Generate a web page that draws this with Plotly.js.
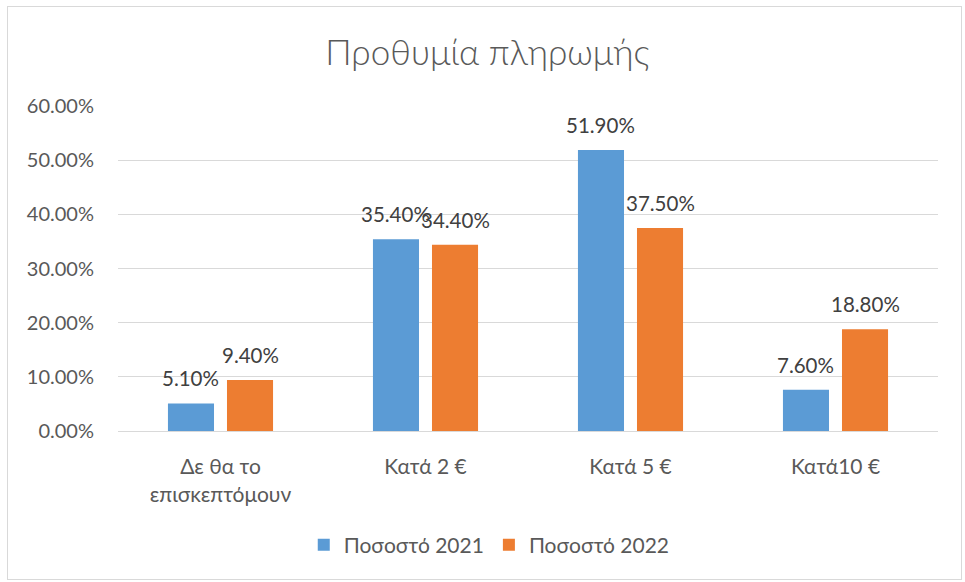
<!DOCTYPE html>
<html>
<head>
<meta charset="utf-8">
<script src="https://cdn.plot.ly/plotly-3.0.1.min.js"></script>
<style>
html,body{margin:0;padding:0;background:#fff;}
#frame{position:absolute;left:7px;top:6px;width:955px;height:574px;border:1px solid #d9d9d9;box-sizing:border-box;}
#chart{position:absolute;left:0;top:0;width:965px;height:582px;}
</style>
</head>
<body>
<div id="frame"></div>
<div id="chart"></div>
<script>
const categories = ["Δε θα το<br>επισκεπτόμουν", "Κατά 2 €", "Κατά 5 €", "Κατά10 €"];
const series2021 = [0.051, 0.354, 0.519, 0.076];
const series2022 = [0.094, 0.344, 0.375, 0.188];
const seriesNames = ["Ποσοστό 2021", "Ποσοστό 2022"];
const tickVals = [0, 0.1, 0.2, 0.3, 0.4, 0.5, 0.6];

const font = "Lato, 'Open Sans', sans-serif";
const colors = ["#5B9BD5", "#ED7D31"];

const data = [series2021, series2022].map((vals, i) => ({
  type: "bar", name: seriesNames[i], x: categories, y: vals,
  marker: {color: colors[i]}, hoverinfo: "skip"
}));

// value labels placed above each bar (offset = half a bar slot)
const bargap = 0.424, bargroupgap = 0.22;
const plotW = 965 - 118 - 27;
const slot = plotW / categories.length * (1 - bargap) / 2;
const annotations = [];
[series2021, series2022].forEach((vals, i) => {
  vals.forEach((v, j) => {
    annotations.push({
      x: categories[j], y: v, xref: "x", yref: "y",
      text: (v * 100).toFixed(2) + "%", showarrow: false,
      xanchor: "center", yanchor: "bottom",
      xshift: (i === 0 ? -1 : 1) * slot / 2, yshift: 11,
      font: {family: font, size: 20.5, color: "#404040"}
    });
  });
});

const layout = {
  width: 965, height: 582,
  paper_bgcolor: "rgba(0,0,0,0)", plot_bgcolor: "rgba(0,0,0,0)",
  margin: {l: 118, r: 27, t: 106, b: 151, autoexpand: false},
  title: {text: "Προθυμία πληρωμής", x: 0.505, xref: "container", y: 0.91, yref: "container", yanchor: "middle",
          font: {family: font, size: 35, color: "#595959", weight: 300}},
  barmode: "group", bargap: bargap, bargroupgap: bargroupgap,
  xaxis: {tickfont: {family: font, size: 21, color: "#595959"}, showline: true, linecolor: "#d9d9d9", ticks: "",
          tickangle: 0, automargin: false, ticklabelstandoff: 17, fixedrange: true},
  yaxis: {range: [0, 0.6], tickvals: tickVals, tickformat: ".2%", tickfont: {family: font, size: 20, color: "#595959"},
          gridcolor: "#d9d9d9", gridwidth: 1, zeroline: false, showline: false, ticks: "", ticklabelstandoff: 23,
          automargin: false, fixedrange: true},
  annotations: annotations,
  showlegend: true,
  legend: {orientation: "h", xref: "container", x: 0.507, xanchor: "center", y: -0.351, yanchor: "middle",
           font: {family: font, size: 21, color: "#595959"}, traceorder: "normal"}
};

Plotly.newPlot("chart", data, layout, {displayModeBar: false, staticPlot: true});
</script>
</body>
</html>
